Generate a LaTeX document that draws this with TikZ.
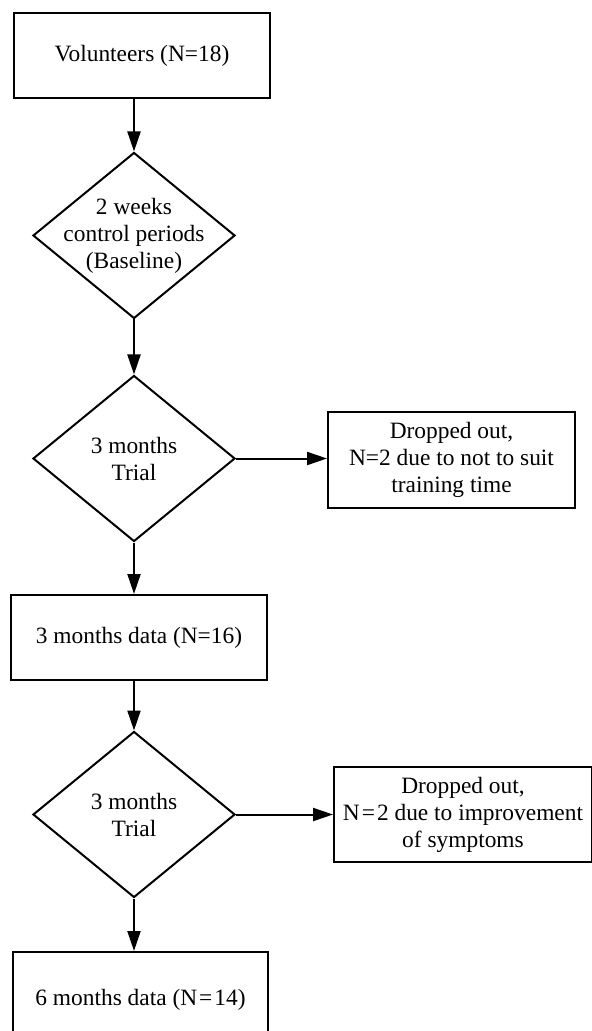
\documentclass[tikz,border=0pt]{standalone}
\usepackage{fontspec}
\setmainfont{Liberation Serif}
\usetikzlibrary{arrows.meta,shapes.geometric}
\tikzset{
    every node/.style={font=\fontsize{11.7}{13.5}\selectfont},
    stagebox/.style={rectangle,draw,line width=1pt,align=center,inner sep=2pt},
    decision/.style={diamond,draw,line width=1pt,inner sep=0pt,minimum width=101pt,minimum height=83pt},
    flow/.style={draw,line width=1pt,-{Triangle[length=10pt,width=6.5pt]}}
}
\begin{document}
\begin{tikzpicture}[x=0.5pt,y=-0.5pt]
\useasboundingbox (0,0) rectangle (592,1031);
% main column
\node[stagebox,minimum width=128pt,minimum height=42.5pt] (vol) at (142,55.5) {Volunteers (N=18)};
\node[decision,label={[align=center]center:2 weeks\\control periods\\(Baseline)}] (base) at (134,235.5) {};
\node[decision,label={[align=center]center:3 months\\Trial}] (trialA) at (134,458.5) {};
\node[stagebox,minimum width=128pt,minimum height=42.5pt] (dataA) at (139,637.5) {3 months data (N=16)};
\node[decision,label={[align=center]center:3 months\\Trial}] (trialB) at (134,814.5) {};
\node[stagebox,minimum width=127.5pt,minimum height=47.5pt] (dataB) at (140.5,999.5) {6 months data (N\kern1pt=\kern1pt14)};
% drop-outs
\node[stagebox,minimum width=123.5pt,minimum height=48pt] (dropA) at (451.5,460) {Dropped out,\\N=2 due to not to suit\\training time};
\node[stagebox,minimum width=129pt,minimum height=47.5pt] (dropB) at (463,814.5) {Dropped out,\\N\kern1pt=\kern1pt2 due to improvement\\of symptoms};
% connectors
\draw[flow] (base.north |- vol.south) -- (base.north);
\draw[flow] (base.south) -- (trialA.north);
\draw[flow] (trialA.east) -- (trialA.east -| dropA.west);
\draw[flow] (trialA.south) -- (trialA.south |- dataA.north);
\draw[flow] (trialB.north |- dataA.south) -- (trialB.north);
\draw[flow] (trialB.east) -- (trialB.east -| dropB.west);
\draw[flow] (trialB.south) -- (trialB.south |- dataB.north);
\end{tikzpicture}
\end{document}
